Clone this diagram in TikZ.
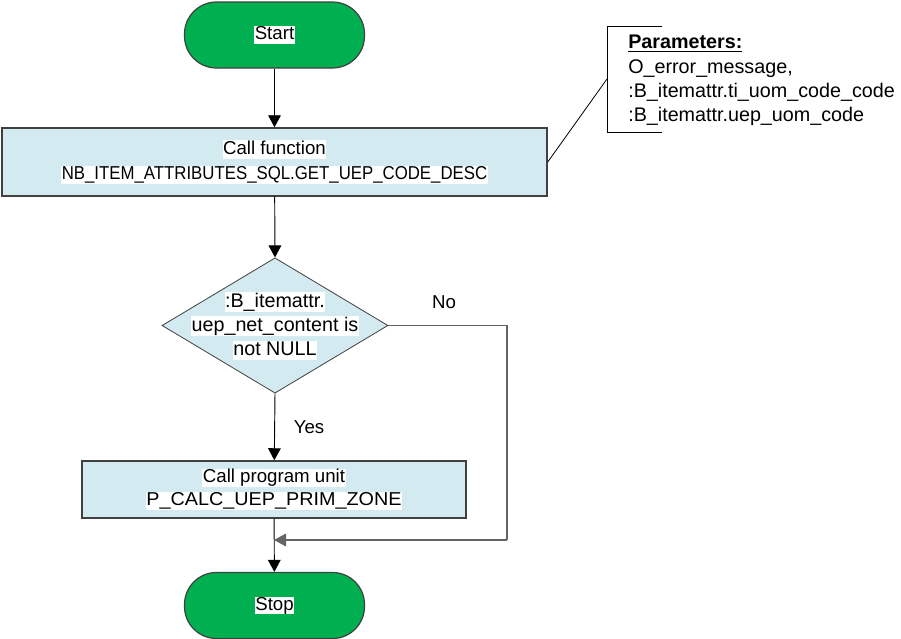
\documentclass[tikz,border=0pt]{standalone}
\usepackage{fontspec}
\setmainfont{Liberation Sans}
\usetikzlibrary{shapes.geometric,arrows.meta}

\definecolor{termgreen}{RGB}{0,176,80}
\definecolor{procblue}{RGB}{210,234,240}
\definecolor{edgegray}{RGB}{64,64,64}
\definecolor{loopgray}{RGB}{100,100,100}

% white highlight behind each line of text
\newcommand{\hl}[1]{{\setlength{\fboxsep}{0.4pt}\colorbox{white}{\vphantom{Ag\_}#1}}}

\tikzset{
  terminal/.style={draw=edgegray, line width=0.9pt, fill=termgreen,
    rounded corners=24pt, minimum width=135pt, minimum height=49.5pt,
    inner sep=0pt, font=\fontsize{14}{17}\selectfont},
  procbox/.style={draw=edgegray, line width=1.1pt, fill=procblue,
    inner sep=0pt, align=center, font=\fontsize{14}{17.5}\selectfont},
  decision/.style={draw=edgegray, line width=0.6pt, fill=procblue, diamond,
    inner sep=0pt, minimum width=169.5pt, minimum height=101.5pt},
  flowtext/.style={align=center, inner sep=0pt, font=\fontsize{14}{17.5}\selectfont},
  flow/.style={draw=black, line width=0.7pt,
    -{Triangle[length=9pt,width=9.5pt]}},
  plainline/.style={draw=loopgray, line width=0.9pt},
  anno/.style={draw=black, line width=0.6pt},
}

\begin{document}
\begin{tikzpicture}[x=0.75pt,y=-0.75pt]
  \useasboundingbox (0,0) rectangle (901,639);

  % start / stop terminals
  \node[terminal] (start) at (274.5,35) {\hl{Start}};
  \node[terminal] (stop)  at (274.5,605.5) {\hl{Stop}};

  % function call
  \node[procbox, minimum width=408.75pt, minimum height=51pt] (call) at (274.5,162)
    {\hl{Call function}\\[1pt]\hl{\scalebox{0.9}[1]{NB\_ITEM\_ATTRIBUTES\_SQL.GET\_UEP\_CODE\_DESC}}};

  % decision
  \node[decision] (dec) at (275,325.5) {};
  \node[flowtext, font=\fontsize{14.8}{18}\selectfont] (dectext) at (275,326)
    {\hl{:B\_itemattr.}\\\hl{uep\_net\_content is}\\\hl{not NULL}};

  % program unit call
  \node[procbox, minimum width=288pt, minimum height=42.75pt] (unit) at (274,489.5)
    {\hl{Call program unit}\\\hl{\scalebox{1.06}[1]{P\_CALC\_UEP\_PRIM\_ZONE}}};

  % parameter annotation
  \coordinate (bt) at (662,26);
  \coordinate (bb) at (662,132);
  \draw[anno] (bt) -- (607,26) -- (607,132) -- (bb);
  \coordinate (bmid) at (607,79);
  \draw[anno] (call.east) -- (bmid);
  \node[anchor=north west, align=left, inner sep=0pt,
        font=\fontsize{14.8}{18.2}\selectfont] (params) at (628,35)
    {\underline{\textbf{Parameters:}}\\
     O\_error\_message,\\
     :B\_itemattr.ti\_uom\_code\_code\\
     :B\_itemattr.uep\_uom\_code};

  % main flow
  \draw[flow] (start) -- (call);
  \draw[flow] (call) -- (dec.north);
  \draw[flow] (dec.south) -- node[flowtext, right=14pt, pos=0.5] (yes) {Yes} (unit);
  \coordinate (merge) at (274,540);
  \coordinate (rtop) at (507,325.5);
  \coordinate (rbot) at (507,540);
  \draw[flow] (unit) -- (stop);

  % "No" branch rejoining above Stop
  \draw[plainline] (dec.east) -- (rtop) -- (rbot);
  \draw[plainline, -{Triangle[length=9pt,width=9.5pt]}] (rbot) -- (merge);
  \node[flowtext] (no) at (444,302) {No};
\end{tikzpicture}
\end{document}
